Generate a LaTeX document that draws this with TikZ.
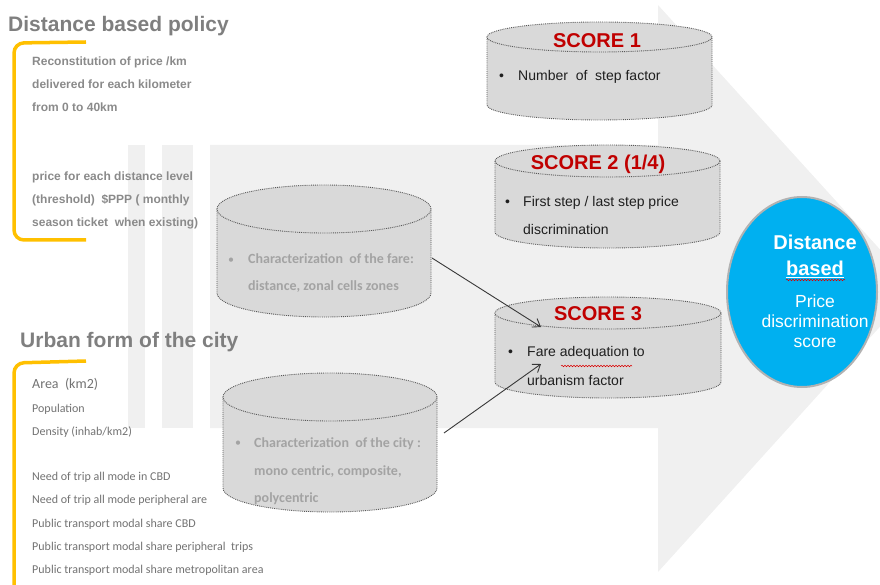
\documentclass[tikz,border=0pt]{standalone}
\usepackage{fontspec}
\setmainfont{Liberation Sans}
\newfontfamily\carl{Carlito}
\usetikzlibrary{arrows.meta,decorations.pathmorphing,shapes.geometric}
\definecolor{titlegray}{HTML}{7F7F7F}
\definecolor{lgray}{HTML}{8A8A8A}
\definecolor{dgray}{HTML}{727272}
\definecolor{cgray}{HTML}{A3A3A3}
\definecolor{cylfill}{HTML}{D9D9D9}
\definecolor{scred}{HTML}{C00000}
\definecolor{cblue}{HTML}{00B0F0}
\definecolor{brkyellow}{HTML}{FFC000}
\definecolor{bgpat}{HTML}{F0F0F0}
\newcommand\drawcyl[5]{%
  \pgfmathsetmacro\cylcx{(#1+#2)/2}%
  \pgfmathsetmacro\cylrx{(#2-#1)/2}%
  \fill[cylfill] (#1,#3+#4) -- (#1,#5-#4) arc[start angle=180,end angle=360,x radius=\cylrx pt,y radius=#4 pt] -- (#2,#3+#4) -- cycle;
  \draw[cylline] (#1,#3+#4) -- (#1,#5-#4) arc[start angle=180,end angle=360,x radius=\cylrx pt,y radius=#4 pt] -- (#2,#3+#4);
  \draw[cylline,fill=cylfill] (\cylcx,#3+#4) ellipse[x radius=\cylrx pt,y radius=#4 pt];
}
\begin{document}
\begin{tikzpicture}[x=1pt,y=-1pt,
  cylline/.style={draw=black!65,densely dotted,line width=0.9pt},
  ttl/.style={font=\fontsize{21}{25}\selectfont\bfseries,text=titlegray,anchor=base west,inner sep=0pt},
  ltxt/.style={font=\fontsize{12}{14}\selectfont\bfseries,text=lgray,anchor=base west,inner sep=0pt},
  btxt/.style={font=\carl\fontsize{12}{14}\selectfont,text=dgray,anchor=base west,inner sep=0pt},
  ctxt/.style={font=\carl\bfseries\fontsize{14}{16}\selectfont,text=cgray,anchor=base west,inner sep=0pt},
  cbul/.style={font=\carl\fontsize{12}{14}\selectfont,text=cgray,anchor=base west,inner sep=0pt},
  sttl/.style={font=\bfseries\fontsize{20}{24}\selectfont,text=scred,anchor=base,inner sep=0pt},
  stxt/.style={font=\fontsize{14}{16}\selectfont,text=black!88,anchor=base west,inner sep=0pt},
  wtxt/.style={font=\fontsize{17.5}{20}\selectfont,text=white,anchor=base,inner sep=0pt},
  brk/.style={draw=brkyellow,line width=3.5pt,rounded corners=10pt},
  conn/.style={draw=black!78,line width=0.9pt,-{Straight Barb[length=7pt,width=10pt]}},
  wavy/.style={draw=red!85!black,line width=0.5pt,decorate,decoration={snake,amplitude=0.8pt,segment length=3pt}}]
\useasboundingbox (0,0) rectangle (880,585);
\begin{scope}
\clip (0,0) rectangle (880,585);
% background striped arrow
\fill[bgpat] (128,145) rectangle (145,428);
\fill[bgpat] (162,145) rectangle (193,428);
\fill[bgpat] (210,145) -- (658,145) -- (658,5) -- (915,288) -- (658,572) -- (658,428) -- (210,428) -- cycle;
% brackets
\draw[brk] (86,42) -- (14,43) -- (14,240) -- (86,240);
\draw[brk] (86,361) -- (14,363) -- (14,600);
\end{scope}

% titles
\node[ttl] (t1) at (8,32) {Distance based policy};
\node[ttl] (t2) at (20,347) {Urban form of the city};

% left block 1
\node[ltxt] (l1) at (32,66) {Reconstitution of price /km};
\node[ltxt] (l2) at (32,89) {delivered for each kilometer};
\node[ltxt] (l3) at (32,112) {from 0 to 40km};
\node[ltxt] (l4) at (32,181) {price for each distance level};
\node[ltxt] (l5) at (32,204) {(threshold)\ \ \$PPP ( monthly};
\node[ltxt] (l6) at (32,227) {season ticket\ \ when existing)};

% left block 2
\node[btxt,font=\carl\fontsize{14}{16}\selectfont] (b1) at (32,388) {Area\ \ (km2)};
\node[btxt] (b2) at (32,412) {Population};
\node[btxt] (b3) at (32,435) {Density (inhab/km2)};
\node[btxt] (b4) at (32,480) {Need of trip all mode in CBD};
\node[btxt] (b5) at (32,503) {Need of trip all mode peripheral are};
\node[btxt] (b6) at (32,527) {Public transport modal share CBD};
\node[btxt] (b7) at (32,550) {Public transport modal share peripheral\ \ trips};
\node[btxt] (b8) at (32,573) {Public transport modal share metropolitan area};

% cylinders
\drawcyl{217}{431}{185}{24}{317}
\drawcyl{223}{437}{373}{24}{512}
\drawcyl{487}{712}{22}{15}{120}
\drawcyl{495}{720}{145}{16}{248}
\drawcyl{495}{721}{297}{16}{398}

% fare cylinder text
\node[cbul] (fb) at (228,263) {•};
\node[ctxt] (f1) at (248,264) {Characterization\ \ of the fare:};
\node[ctxt] (f2) at (248,290) {distance, zonal cells zones};
% city cylinder text
\node[cbul] (cb) at (235,446) {•};
\node[ctxt] (c1) at (254,447) {Characterization\ \ of the city :};
\node[ctxt] (c2) at (254,475) {mono centric, composite,};
\node[ctxt] (c3) at (254,502) {polycentric};

% score cylinders text
\node[sttl] (s1t) at (597,48) {SCORE 1};
\node[stxt] (s1b) at (499,81) {•};
\node[stxt] (s1a) at (518,81) {Number\ \ of\ \ step factor};
\node[sttl] (s2t) at (598,170) {SCORE 2 (1/4)};
\node[stxt] (s2b) at (505,207) {•};
\node[stxt] (s2a) at (523,207) {First step / last step price};
\node[stxt] (s2c) at (523,235) {discrimination};
\node[sttl] (s3t) at (598,320) {SCORE 3};
\node[stxt] (s3b) at (508,356) {•};
\node[stxt] (s3a) at (527,356) {Fare adequation to};
\node[stxt] (s3c) at (527,385) {urbanism factor};
\draw[wavy] (561,366) -- (632,366);

% connectors
\coordinate (fareout) at (432,258);
\coordinate (cityout) at (444,433);
\coordinate (s3in1) at (541,327);
\coordinate (s3in2) at (541,364);
\draw[conn] (fareout) -- (s3in1);
\draw[conn] (cityout) -- (s3in2);

% result ellipse
\node[ellipse,draw=black!30,line width=2pt,fill=cblue,minimum width=150pt,minimum height=190pt,inner sep=0pt] (res) at (802,292) {};
\node[wtxt,font=\bfseries\fontsize{20}{24}\selectfont] (r1) at (815,250) {Distance};
\node[wtxt,font=\bfseries\fontsize{20}{24}\selectfont] (r2) at (815,275) {based};
\draw[white,line width=1pt] ([yshift=-2pt]r2.base west) -- ([yshift=-2pt]r2.base east);
\draw[wavy] (786,280) -- (845,280);
\node[wtxt] (r3) at (815,307) {Price};
\node[wtxt] (r4) at (815,327) {discrimination};
\node[wtxt] (r5) at (815,347) {score};
\end{tikzpicture}
\end{document}
